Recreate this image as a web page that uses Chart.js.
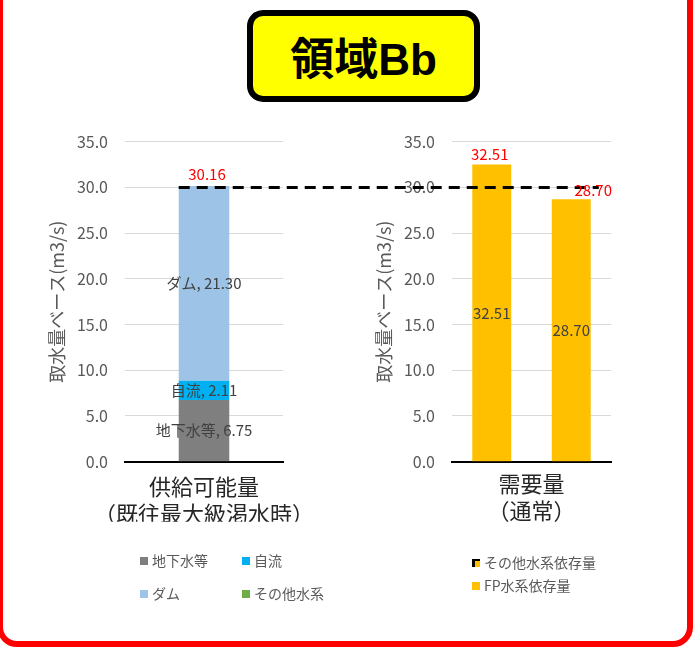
<!DOCTYPE html>
<html lang="ja">
<head>
<meta charset="utf-8">
<script src="https://cdn.jsdelivr.net/npm/chart.js@4"></script>
<style>
  body { margin: 0; width: 697px; height: 653px; position: relative; overflow: hidden; background: #fff;
         font-family: "Noto Sans CJK JP", sans-serif; }
  canvas { position: absolute; left: 0; top: 0; }
  #frame { position: absolute; left: -3px; top: -40px; width: 684px; height: 675px;
           border: 6px solid #ff0000; border-radius: 20px; }
  #title { position: absolute; left: 247px; top: 10px; width: 221px; height: 80px;
           border: 6px solid #000; border-radius: 16px; background: #ffff00;
           display: flex; align-items: center; justify-content: center;
           font: bold 44px "Liberation Sans", "Noto Sans CJK JP", sans-serif; color: #000; }
  .legend { position: absolute; font-size: 14px; color: #595959; }
  .item { position: absolute; white-space: nowrap; line-height: 18px; }
  .item i { display: inline-block; width: 8px; height: 8px; margin-right: 4px; vertical-align: 1px; }
</style>
</head>
<body>
<div id="frame"></div>
<div id="title">領域Bb</div>
<canvas id="leftChart" width="697" height="653"></canvas>
<canvas id="rightChart" width="697" height="653"></canvas>
<div class="legend" id="leftLegend"></div>
<div class="legend" id="rightLegend"></div>

<script>
// 供給可能量（既往最大級渇水時）
const leftCategories = [['供給可能量', '（既往最大級渇水時）']];
const leftSeries = ['地下水等', '自流', 'ダム', 'その他水系'];
const groundwater = [6.75];
const freeFlow = [2.11];
const dam = [21.30];
const otherSystem = [0];

// 需要量（通常）
const rightCategories = ['需要量1', '需要量2'];
const rightCaption = ['需要量', '（通常）'];
const rightSeries = ['その他水系依存量', 'FP水系依存量'];
const otherDependence = [0, 0];
const fpDependence = [32.51, 28.70];

const yMax = 35;
const yStep = 5;
const referenceLevel = 30;

const leftColors = ['#7f7f7f', '#00b0f0', '#9dc3e6', '#70ad47'];
const rightColors = ['#ffc000', '#ffc000'];

const FONT = '"Noto Sans CJK JP", sans-serif';
const GRID = '#d9d9d9';
const TICK = '#595959';

function yAxis() {
  return {
    stacked: true,
    min: 0,
    max: yMax,
    ticks: { stepSize: yStep, padding: 17, color: TICK, font: { size: 16, family: FONT },
             callback: v => v.toFixed(1) },
    grid: { color: GRID, lineWidth: 1, drawTicks: false },
    border: { display: false },
    title: { display: true, text: '取水量ベース(m3/s)', color: TICK,
             font: { size: 18, family: FONT }, padding: { top: 6, bottom: 0 } },
    afterFit: s => { s.width = 85; }
  };
}

// labels inside the segments and totals above the bars
function labelPlugin(withName, totalShift) {
  return {
    id: 'labels',
    afterDatasetsDraw(chart) {
      const ctx = chart.ctx;
      const y = chart.scales.y;
      ctx.save();
      ctx.textAlign = 'center';
      ctx.textBaseline = 'middle';
      ctx.font = '15px ' + FONT;
      ctx.fillStyle = '#404040';
      const totals = [];
      chart.data.datasets.forEach((ds, i) => {
        chart.getDatasetMeta(i).data.forEach((bar, j) => {
          const v = ds.data[j];
          totals[j] = (totals[j] || 0) + v;
          if (!v) return;
          const txt = withName ? ds.label + ', ' + v.toFixed(2) : v.toFixed(2);
          ctx.fillText(txt, bar.x, (bar.y + bar.base) / 2);
        });
      });
      ctx.fillStyle = '#ff0000';
      const bars = chart.getDatasetMeta(0).data;
      totals.forEach((t, j) => {
        const sh = totalShift[j] || [0, 0];
        ctx.fillText(t.toFixed(2), bars[j].x + sh[0], y.getPixelForValue(t) - 12 + sh[1]);
      });
      ctx.restore();
    }
  };
}

const leftChart = new Chart(document.getElementById('leftChart'), {
  type: 'bar',
  data: {
    labels: leftCategories,
    datasets: [groundwater, freeFlow, dam, otherSystem].map((d, i) => ({
      label: leftSeries[i], data: d, backgroundColor: leftColors[i],
      barPercentage: 0.32, categoryPercentage: 1
    }))
  },
  options: {
    responsive: false,
    animation: false,
    layout: { padding: { left: 40, top: 141.7, right: 414, bottom: 131.3 } },
    plugins: { legend: { display: false }, tooltip: { enabled: false } },
    scales: {
      x: {
        stacked: true,
        grid: { display: false, drawTicks: false },
        border: { color: '#000', width: 2 },
        ticks: { maxRotation: 0, minRotation: 0, autoSkip: false, padding: 11, color: '#262626',
                 font: { size: 22, family: FONT, lineHeight: 1.25 } },
        afterFit: s => { s.height = 60; }
      },
      y: yAxis()
    }
  },
  plugins: [labelPlugin(true, [[3, 0]])]
});

const referencePlugin = {
  id: 'reference',
  afterDatasetsDraw(chart) {
    const ctx = chart.ctx;
    const lb = leftChart.getDatasetMeta(0).data[0];
    const rb = chart.getDatasetMeta(1).data[1];
    const yy = chart.scales.y.getPixelForValue(referenceLevel);
    ctx.save();
    ctx.strokeStyle = '#000';
    ctx.lineWidth = 3;
    ctx.setLineDash([11, 7]);
    ctx.beginPath();
    ctx.moveTo(lb.x - lb.width / 2, yy);
    ctx.lineTo(rb.x + rb.width / 2 + 8, yy);
    ctx.stroke();
    ctx.restore();
  }
};

const rightChart = new Chart(document.getElementById('rightChart'), {
  type: 'bar',
  data: {
    labels: rightCategories,
    datasets: [otherDependence, fpDependence].map((d, i) => ({
      label: rightSeries[i], data: d, backgroundColor: rightColors[i],
      barPercentage: 0.49, categoryPercentage: 1
    }))
  },
  options: {
    responsive: false,
    animation: false,
    layout: { padding: { left: 367, top: 141.7, right: 86, bottom: 121.3 } },
    plugins: { legend: { display: false }, tooltip: { enabled: false } },
    scales: {
      x: {
        stacked: true,
        grid: { display: false, drawTicks: false },
        border: { color: '#000', width: 2 },
        ticks: { display: false },
        title: { display: true, text: rightCaption, color: '#262626',
                 font: { size: 22, family: FONT, lineHeight: 1.25 }, padding: { top: 0, bottom: 7 } },
        afterFit: s => { s.height = 70; }
      },
      y: yAxis()
    }
  },
  plugins: [referencePlugin, labelPlugin(false, [[-2, 2], [22, 3]])]
});

// HTML legends built from the series names
function buildLegend(el, names, colors, spots, marks) {
  names.forEach((n, i) => {
    const d = document.createElement('div');
    d.className = 'item';
    d.style.left = spots[i][0] + 'px';
    d.style.top = spots[i][1] + 'px';
    const sw = document.createElement('i');
    sw.style.background = colors[i];
    if (marks && marks[i]) sw.style.boxShadow = marks[i];
    d.appendChild(sw);
    d.appendChild(document.createTextNode(n));
    el.appendChild(d);
  });
}
buildLegend(document.getElementById('leftLegend'), leftSeries, leftColors,
  [[140, 551], [242, 551], [140, 584], [242, 584]]);
buildLegend(document.getElementById('rightLegend'), rightSeries, rightColors,
  [[472, 553], [472, 576]], ['inset 3px 0 0 #000, inset 0 2px 0 #000', null]);
</script>
</body>
</html>
